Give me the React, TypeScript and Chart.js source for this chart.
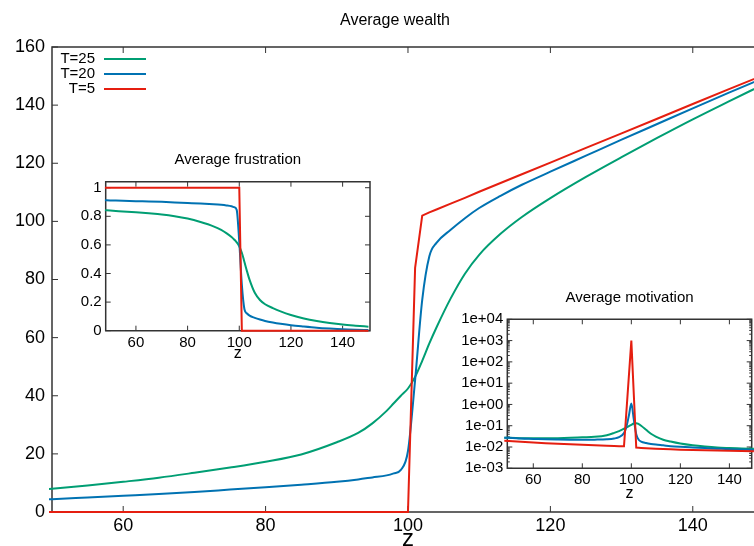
import { useEffect, useRef } from "react";
import { Chart, registerables } from "chart.js";

Chart.register(...registerables);

// ---------------- data ----------------
const Z = [48, 50, 55, 60, 65, 70, 75, 80, 85, 90, 93, 95, 97, 98, 99, 100, 101, 102, 103, 104, 106, 108, 110, 113, 116, 120, 125, 130, 135, 140, 145, 150];

// Average wealth
const WEALTH_T25 = [7.6, 8.0, 9.1, 10.4, 11.8, 13.5, 15.3, 17.3, 19.8, 24.0, 27.2, 30.5, 34.8, 37.4, 40.0, 42.5, 46.5, 52.0, 58.0, 63.5, 73.5, 82.0, 88.5, 95.7, 101.5, 108.0, 115.3, 122.1, 128.7, 135.1, 141.2, 147.2];
const WEALTH_T20 = [4.2, 4.4, 5.0, 5.6, 6.2, 6.9, 7.7, 8.5, 9.4, 10.4, 11.2, 11.9, 12.6, 13.3, 14.5, 21.0, 45.4, 73.0, 88.0, 92.6, 97.1, 101.1, 104.6, 108.8, 112.6, 117.1, 122.6, 128.1, 133.5, 138.9, 144.2, 149.4];
const WEALTH_T5 = [0, 0, 0, 0, 0, 0, 0, 0, 0, 0, 0, 0, 0, 0, 0, 0, 84, 102, 103.1, 104.1, 106.1, 108.1, 110.2, 113.2, 116.2, 120.2, 125.3, 130.3, 135.3, 140.4, 145.4, 150.4];

// Average frustration
const FRUST_T25 = [0.843, 0.840, 0.834, 0.828, 0.821, 0.813, 0.801, 0.784, 0.760, 0.730, 0.705, 0.682, 0.655, 0.638, 0.618, 0.590, 0.545, 0.480, 0.415, 0.355, 0.265, 0.215, 0.185, 0.158, 0.135, 0.110, 0.086, 0.068, 0.054, 0.043, 0.035, 0.028];
const FRUST_T20 = [0.912, 0.911, 0.909, 0.906, 0.904, 0.901, 0.897, 0.893, 0.889, 0.884, 0.880, 0.876, 0.870, 0.864, 0.845, 0.620, 0.320, 0.150, 0.120, 0.105, 0.090, 0.078, 0.068, 0.057, 0.048, 0.038, 0.029, 0.021, 0.015, 0.010, 0.007, 0.005];
const FRUST_T5 = [1, 1, 1, 1, 1, 1, 1, 1, 1, 1, 1, 1, 1, 1, 1, 1, 0, 0, 0, 0, 0, 0, 0, 0, 0, 0, 0, 0, 0, 0, 0, 0];

// Average motivation (log scale)
const MOT_T25 = [0.027, 0.027, 0.026, 0.0255, 0.0255, 0.026, 0.027, 0.0285, 0.030, 0.036, 0.046, 0.056, 0.072, 0.082, 0.095, 0.11, 0.128, 0.132, 0.12, 0.1, 0.065, 0.042, 0.031, 0.022, 0.018, 0.0145, 0.012, 0.0105, 0.0095, 0.009, 0.0086, 0.0082];
const MOT_T20 = [0.027, 0.027, 0.025, 0.024, 0.023, 0.0225, 0.0222, 0.022, 0.0222, 0.023, 0.025, 0.029, 0.045, 0.09, 0.3, 1.1, 0.2, 0.04, 0.022, 0.018, 0.0155, 0.014, 0.013, 0.012, 0.011, 0.0102, 0.0095, 0.0089, 0.0084, 0.0079, 0.0076, 0.0073];
const MOT_T5 = [0.0195, 0.019, 0.0175, 0.0163, 0.0152, 0.0143, 0.0135, 0.0128, 0.0121, 0.0116, 0.0112, 0.011, 0.0108, null, null, 1000, null, 0.0095, 0.0093, 0.0091, 0.0088, 0.0085, 0.0083, 0.008, 0.0078, 0.0075, 0.0072, 0.007, 0.0068, 0.0066, 0.0065, 0.0064];

// ticks
const Z_TICKS = [60, 80, 100, 120, 140];
const Z_TICK_LABELS = ["60", "80", "100", "120", "140"];
const WEALTH_TICKS = [0, 20, 40, 60, 80, 100, 120, 140, 160];
const WEALTH_TICK_LABELS = ["0", "20", "40", "60", "80", "100", "120", "140", "160"];
const FRUST_TICKS = [0, 0.2, 0.4, 0.6, 0.8, 1];
const FRUST_TICK_LABELS = ["0", "0.2", "0.4", "0.6", "0.8", "1"];
const MOT_TICKS = [1e-3, 1e-2, 1e-1, 1e0, 1e1, 1e2, 1e3, 1e4];
const MOT_TICK_LABELS = ["1e-03", "1e-02", "1e-01", "1e+00", "1e+01", "1e+02", "1e+03", "1e+04"];

const SERIES_LABELS = ["T=25", "T=20", "T=5"];

// ---------------- styles ----------------
const GREEN = "#009e73";
const BLUE = "#0072b2";
const RED = "#e51e10";
const FONT = '"Liberation Sans", Arial, Helvetica, sans-serif';
const FRAME = "#333333";

const decoPlugin = {
  id: "deco",
  beforeDatasetsDraw(chart: any, _args: any, o: any) {
    const { ctx, chartArea: a, scales } = chart;
    const xs = scales.x;
    const ys = scales.y;
    ctx.save();
    ctx.strokeStyle = FRAME;
    ctx.lineWidth = o.frameWidth;
    ctx.lineCap = "square";
    ctx.beginPath();
    ctx.moveTo(a.right, a.top);
    ctx.lineTo(a.left, a.top);
    ctx.lineTo(a.left, a.bottom);
    ctx.lineTo(a.right, a.bottom);
    if (o.right) ctx.lineTo(a.right, a.top);
    ctx.stroke();

    ctx.lineWidth = 1;
    ctx.lineCap = "butt";
    const L = o.tickLen;
    ctx.beginPath();
    xs.ticks.forEach((t: any) => {
      const p = xs.getPixelForValue(t.value);
      ctx.moveTo(p, a.bottom);
      ctx.lineTo(p, a.bottom - L);
      ctx.moveTo(p, a.top);
      ctx.lineTo(p, a.top + L);
    });
    ys.ticks.forEach((t: any) => {
      const p = ys.getPixelForValue(t.value);
      ctx.moveTo(a.left, p);
      ctx.lineTo(a.left + L, p);
      if (o.right) {
        ctx.moveTo(a.right, p);
        ctx.lineTo(a.right - L, p);
      }
    });
    if (o.minorLog) {
      for (let e = -3; e < 4; e++) {
        for (let k = 2; k <= 9; k++) {
          const p = ys.getPixelForValue(k * Math.pow(10, e));
          ctx.moveTo(a.left, p);
          ctx.lineTo(a.left + L / 2, p);
          if (o.right) {
            ctx.moveTo(a.right, p);
            ctx.lineTo(a.right - L / 2, p);
          }
        }
      }
    }
    ctx.stroke();
    ctx.restore();
  },
  afterDraw(chart: any, _args: any, o: any) {
    const { ctx, chartArea: a, scales } = chart;
    const xs = scales.x;
    ctx.save();
    ctx.fillStyle = "#000";
    ctx.textAlign = "center";
    ctx.textBaseline = "middle";
    ctx.font = o.titleFont;
    ctx.fillText(o.title, o.titleX != null ? o.titleX : (a.left + a.right) / 2, o.titleY);
    ctx.font = o.xTitleFont;
    const xtx = o.xTitleValue != null ? xs.getPixelForValue(o.xTitleValue) : (a.left + a.right) / 2;
    ctx.fillText(o.xTitle, xtx, o.xTitleY);

    if (o.legend) {
      const lg = o.legend;
      ctx.font = lg.font;
      ctx.textAlign = "right";
      chart.data.datasets.forEach((ds: any, i: number) => {
        const y = lg.y0 + i * lg.dy;
        ctx.fillStyle = "#000";
        ctx.fillText(ds.label, lg.textRight, y);
        ctx.strokeStyle = ds.borderColor;
        ctx.lineWidth = 2;
        ctx.beginPath();
        ctx.moveTo(lg.lineFrom, y);
        ctx.lineTo(lg.lineTo, y);
        ctx.stroke();
      });
    }
    ctx.restore();
  },
};

function ds(label: string, values: (number | null)[], color: string, order: number, smooth: boolean) {
  return {
    label,
    data: Z.map((z, i) => ({ x: z, y: values[i] })),
    borderColor: color,
    backgroundColor: color,
    borderWidth: 2,
    pointRadius: 0,
    fill: false,
    tension: 0,
    cubicInterpolationMode: smooth ? "monotone" : "default",
    spanGaps: true,
    order,
    clip: 3,
  };
}

function axis(opts: {
  type: string;
  min: number;
  max: number;
  ticks: number[];
  labels: string[];
  size: number;
  fontSize: number;
  padding: number;
  horizontal: boolean;
}) {
  return {
    type: opts.type,
    min: opts.min,
    max: opts.max,
    afterBuildTicks: (s: any) => {
      s.ticks = opts.ticks.map((v) => ({ value: v }));
    },
    afterFit: (s: any) => {
      if (opts.horizontal) s.height = opts.size;
      else s.width = opts.size;
    },
    grid: { display: false, drawTicks: false },
    border: { display: false },
    ticks: {
      autoSkip: false,
      maxRotation: 0,
      padding: opts.padding,
      color: "#000",
      font: { family: FONT, size: opts.fontSize },
      callback: (_v: any, i: number) => opts.labels[i],
    },
  };
}

function baseOptions(padTop: number, padRight: number, scales: any, deco: any) {
  return {
    animation: false,
    responsive: false,
    devicePixelRatio: 1,
    layout: { padding: { top: padTop, right: padRight, left: 0, bottom: 0 } },
    plugins: {
      legend: { display: false },
      tooltip: { enabled: false },
      title: { display: false },
      deco,
    },
    scales,
  };
}

function datasets(a: (number | null)[], b: (number | null)[], c: (number | null)[]) {
  return [
    ds(SERIES_LABELS[0], a, GREEN, 2, true),
    ds(SERIES_LABELS[1], b, BLUE, 1, true),
    ds(SERIES_LABELS[2], c, RED, 0, false),
  ];
}

export default function App() {
  const mainRef = useRef<HTMLCanvasElement>(null);
  const frustRef = useRef<HTMLCanvasElement>(null);
  const motRef = useRef<HTMLCanvasElement>(null);

  useEffect(() => {
    const main = new Chart(mainRef.current as HTMLCanvasElement, {
      type: "line",
      data: { datasets: datasets(WEALTH_T25, WEALTH_T20, WEALTH_T5) as any },
      options: baseOptions(
        47,
        0,
        {
          x: axis({ type: "linear", min: 50, max: 148.6, ticks: Z_TICKS, labels: Z_TICK_LABELS, size: 34, fontSize: 18, padding: 3, horizontal: true }),
          y: axis({ type: "linear", min: 0, max: 160, ticks: WEALTH_TICKS, labels: WEALTH_TICK_LABELS, size: 52, fontSize: 18, padding: 7, horizontal: false }),
        },
        {
          right: false,
          frameWidth: 1.5,
          tickLen: 6,
          title: "Average wealth",
          titleFont: `16px ${FONT}`,
          titleX: 395,
          titleY: 21,
          xTitle: "z",
          xTitleFont: `24px ${FONT}`,
          xTitleValue: 100,
          xTitleY: 539,
          legend: { font: `15px ${FONT}`, textRight: 95, lineFrom: 104, lineTo: 146, y0: 59, dy: 15 },
        }
      ) as any,
      plugins: [decoPlugin as any],
    });

    const frust = new Chart(frustRef.current as HTMLCanvasElement, {
      type: "line",
      data: { datasets: datasets(FRUST_T25, FRUST_T20, FRUST_T5) as any },
      options: baseOptions(
        41.7,
        10,
        {
          x: axis({ type: "linear", min: 48.3, max: 150.6, ticks: Z_TICKS, labels: Z_TICK_LABELS, size: 39.3, fontSize: 15, padding: 3, horizontal: true }),
          y: axis({ type: "linear", min: 0, max: 1.042, ticks: FRUST_TICKS, labels: FRUST_TICK_LABELS, size: 45.7, fontSize: 15, padding: 4, horizontal: false }),
        },
        {
          right: true,
          frameWidth: 1.5,
          tickLen: 5,
          title: "Average frustration",
          titleFont: `15px ${FONT}`,
          titleY: 20,
          xTitle: "z",
          xTitleFont: `16px ${FONT}`,
          xTitleY: 214,
        }
      ) as any,
      plugins: [decoPlugin as any],
    });

    const mot = new Chart(motRef.current as HTMLCanvasElement, {
      type: "line",
      data: { datasets: datasets(MOT_T25, MOT_T20, MOT_T5) as any },
      options: baseOptions(
        39.3,
        2.3,
        {
          x: axis({ type: "linear", min: 49.4, max: 149.1, ticks: Z_TICKS, labels: Z_TICK_LABELS, size: 37.7, fontSize: 15, padding: 3, horizontal: true }),
          y: axis({ type: "logarithmic", min: 1e-3, max: 1e4, ticks: MOT_TICKS, labels: MOT_TICK_LABELS, size: 45.3, fontSize: 15, padding: 4, horizontal: false }),
        },
        {
          right: true,
          frameWidth: 1.5,
          tickLen: 5,
          minorLog: true,
          title: "Average motivation",
          titleFont: `15px ${FONT}`,
          titleY: 18,
          xTitle: "z",
          xTitleFont: `16px ${FONT}`,
          xTitleY: 214,
        }
      ) as any,
      plugins: [decoPlugin as any],
    });

    return () => {
      main.destroy();
      frust.destroy();
      mot.destroy();
    };
  }, []);

  return (
    <div style={{ position: "fixed", left: 0, top: 0, width: 754, height: 546, background: "#fff", overflow: "hidden" }}>
      <canvas ref={mainRef} width={754} height={546} style={{ position: "absolute", left: 0, top: 0 }} />
      <canvas ref={frustRef} width={320} height={230} style={{ position: "absolute", left: 60, top: 140 }} />
      <canvas ref={motRef} width={292} height={226} style={{ position: "absolute", left: 462, top: 280 }} />
    </div>
  );
}
